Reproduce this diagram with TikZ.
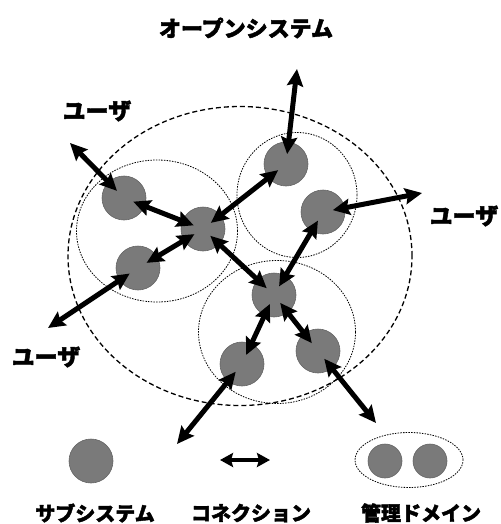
\documentclass[tikz,border=0pt]{standalone}
\usepackage{fontspec}
\newfontfamily\cjk{Noto Sans CJK JP}[BoldFeatures={FakeBold=2}]
\usetikzlibrary{arrows.meta,shapes.geometric}
\begin{document}
\begin{tikzpicture}[x=1pt,y=-1pt,
  sub/.style={circle,fill={rgb,255:red,122;green,122;blue,122},draw={rgb,255:red,100;green,100;blue,100},line width=0.6pt,minimum size=44pt,inner sep=0pt},
  smallsub/.style={sub,minimum size=34pt},
  dom/.style={draw,line width=0.8pt,dash pattern=on 1.5pt off 1.2pt},
  outer/.style={draw,line width=1.3pt,dash pattern=on 5pt off 3pt},
  tip/.tip={Stealth[length=17pt,width=16pt,inset=2.5pt]},
  conn/.style={line width=5pt,tip-tip},
  inin/.style={shorten <=10pt,shorten >=10pt},
  inout/.style={shorten <=10pt},
  lbl/.style={font=\cjk\bfseries\fontsize{20pt}{20pt}\selectfont,inner sep=0pt},
  ttl/.style={font=\cjk\bfseries\fontsize{22pt}{22pt}\selectfont,inner sep=0pt},
  usr/.style={font=\cjk\bfseries\fontsize{23pt}{23pt}\selectfont,inner sep=0pt}
]
\useasboundingbox (0,0) rectangle (500,524);

\node[ttl] (title) at (246,28) {オープンシステム};

% domains
\node[dom,ellipse,minimum width=161pt,minimum height=142pt,inner sep=0pt] (d1) at (157,231) {};
\node[dom,ellipse,minimum width=120pt,minimum height=125pt,inner sep=0pt] (d2) at (297,195) {};
\node[dom,ellipse,minimum width=157pt,minimum height=143pt,inner sep=0pt] (d3) at (277,332) {};
\node[outer,ellipse,minimum width=344pt,minimum height=299pt,inner sep=0pt] (os) at (240,256) {};

% subsystems
\node[sub] (A) at (124,198) {};
\node[sub] (B) at (203,229) {};
\node[sub] (C) at (286,164) {};
\node[sub] (D) at (323,212) {};
\node[sub] (E) at (138,268) {};
\node[sub] (F) at (274,295) {};
\node[sub] (G) at (242,364) {};
\node[sub] (H) at (318,351) {};

% user ends
\coordinate (uA) at (70,143);
\coordinate (uC) at (297,69);
\coordinate (uD) at (422,193);
\coordinate (uE) at (48,328);
\coordinate (uG) at (177,444);
\coordinate (uH) at (376,423);

% connections
\draw[conn,inin] (B.center) -- (A.center);
\draw[conn,inin] (B.center) -- (E.center);
\draw[conn,inin] (B.center) -- (C.center);
\draw[conn,inin] (B.center) -- (F.center);
\draw[conn,inin] (D.center) -- (F.center);
\draw[conn,inin] (F.center) -- (G.center);
\draw[conn,inin] (F.center) -- (H.center);

% user connections
\draw[conn,inout] (A.center) -- (uA);
\draw[conn,inout] (C.center) -- (uC);
\draw[conn,inout] (D.center) -- (uD);
\draw[conn,inout] (E.center) -- (uE);
\draw[conn,inout] (G.center) -- (uG);
\draw[conn,inout] (H.center) -- (uH);

% user labels
\node[usr] (u1) at (97,111) {ユーザ};
\node[usr] (u2) at (464,216) {ユーザ};
\node[usr] (u3) at (46,357) {ユーザ};

% legend
\node[sub] (lsub) at (91,461) {};
\coordinate (la) at (220,460);
\coordinate (lb) at (270,460);
\draw[line width=4pt,{Stealth[length=13pt,width=14pt,inset=2pt]}-{Stealth[length=13pt,width=14pt,inset=2pt]}] (la) -- (lb);
\node[dom,ellipse,minimum width=108pt,minimum height=55pt,inner sep=0pt] (ldom) at (409,460) {};
\node[smallsub] (ls1) at (385,461) {};
\node[smallsub] (ls2) at (430,461) {};

\node[lbl] (t1) at (95,513) {サブシステム};
\node[lbl] (t2) at (251,513) {コネクション};
\node[lbl] (t3) at (421,513) {管理ドメイン};
\end{tikzpicture}
\end{document}
